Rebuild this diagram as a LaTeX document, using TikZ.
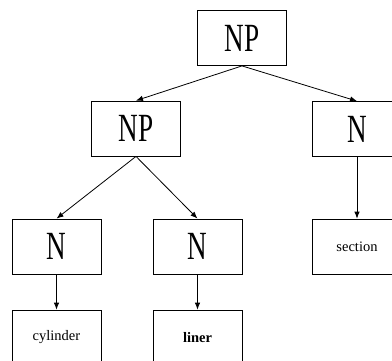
\documentclass[tikz,border=0pt]{standalone}
\usepackage{fontspec}
\setmainfont{Liberation Serif}
\newfontfamily\narrowserif[FakeStretch=0.68]{Liberation Serif}
\usetikzlibrary{arrows.meta}

\begin{document}
\begin{tikzpicture}[x=1pt, y=-1pt]
    \tikzstyle{tag}=[draw, rectangle, line width=0.8pt, minimum width=89pt,
      minimum height=55pt, inner sep=0pt, font=\narrowserif\fontsize{40}{40}\selectfont]
    \tikzstyle{word}=[tag, font=\fontsize{14.5}{16}\selectfont]
    \tikzstyle{edge}=[line width=0.8pt, -{Latex[length=7pt, width=5.5pt]}]

    \useasboundingbox (0, 0) rectangle (392, 360);
    \clip (0, 0) rectangle (392, 360);

    % Phrase level
    \node[tag] (np) at (242, 38) {NP};
    \node[tag] (np1) at (136, 128.5) {NP};
    \node[tag] (n3) at (357, 129) {N};

    % Nouns
    \node[tag] (n1) at (56.5, 246.5) {N};
    \node[tag] (n2) at (197.5, 246.5) {N};

    % Words
    \node[word] (w3) at (357, 246.5) {section};
    \node[word] (w1) at (56.5, 337.5) {cylinder};
    \node[word] (w2) at (197.5, 337.5) {\textbf{liner}};

    \draw[edge] (np.south) -- (np1.north);
    \draw[edge] (np.south) -- (n3.north);
    \draw[edge] (np1.south) -- (n1.north);
    \draw[edge] (np1.south) -- (n2.north);
    \draw[edge] (n1) -- (w1);
    \draw[edge] (n2) -- (w2);
    \draw[edge] (n3) -- (w3);
  \end{tikzpicture}
\end{document}
